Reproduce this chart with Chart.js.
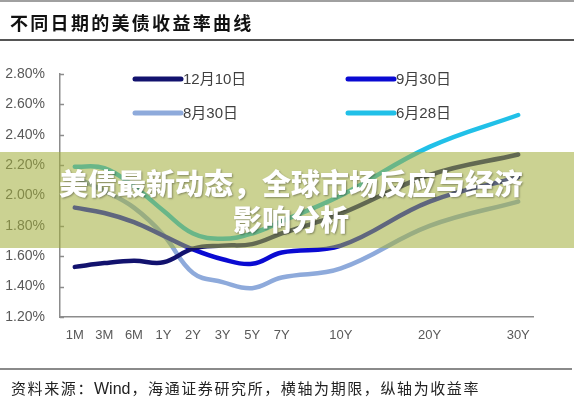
<!DOCTYPE html>
<html>
<head>
<meta charset="utf-8">
<script src="https://cdn.jsdelivr.net/npm/chart.js@4"></script>
<style>
  html, body { margin: 0; padding: 0; background: #fff; }
  #wrap { position: relative; width: 574px; height: 400px; overflow: hidden; background: #fff;
          font-family: "Noto Sans CJK SC", "Liberation Sans", sans-serif; }
  #chart { position: absolute; left: 0; top: 0; }
  #topline { position: absolute; left: 0; top: 0; width: 574px; height: 2px; background: #a0a0a0; }
  #title { position: absolute; left: 10px; top: 9px; font-size: 18px; font-weight: 700; letter-spacing: 2.3px;
           color: #111; line-height: 26px; white-space: nowrap; }
  #titleline { position: absolute; left: 0; top: 39px; width: 574px; height: 1.5px; background: #555; }
  #banner { position: absolute; left: 0; top: 152px; width: 574px; height: 96px; background: rgba(162,175,60,0.56); }
  #bannertext { position: absolute; left: 4px; top: 164px; width: 574px; text-align: center; color: #fff;
                font-size: 29px; font-weight: 900; line-height: 36px; white-space: nowrap;
                text-shadow: 1px 1px 2px rgba(0,0,0,0.35); }
  #footline { position: absolute; left: 0; top: 368px; width: 572px; height: 1.5px; background: #8a8a8a; }
  #foot { position: absolute; left: 11px; top: 377px; font-size: 15px; letter-spacing: 1.6px; color: #222;
          line-height: 22px; white-space: nowrap; }
  #foot .latin { font-family: "Liberation Sans", Arial, sans-serif; font-size: 16px; letter-spacing: 0; margin-right: 1px; }
</style>
</head>
<body>
<div id="wrap">
  <canvas id="chart" width="574" height="400"></canvas>
  <div id="topline"></div>
  <div id="title">不同日期的美债收益率曲线</div>
  <div id="titleline"></div>
  <div id="banner"></div>
  <div id="bannertext">美债最新动态，全球市场反应与经济<br>影响分析</div>
  <div id="footline"></div>
  <div id="foot">资料来源：<span class="latin">Wind</span>，海通证券研究所，横轴为期限，纵轴为收益率</div>
</div>
<script>
// Maturities and where they sit on the horizontal axis (spacing follows the source layout)
const tenors = ['1M', '3M', '6M', '1Y', '2Y', '3Y', '5Y', '7Y', '10Y', '20Y', '30Y'];
const tenorPos = [0, 1, 2, 3, 4, 5, 6, 7, 9, 12, 15];

// Yield tick values (%)
const yTicks = [1.2, 1.4, 1.6, 1.8, 2.0, 2.2, 2.4, 2.6, 2.8];

// Yield curves (%) on four dates
const seriesNames = ['12月10日', '9月30日', '8月30日', '6月28日'];
const dec10 = [1.53, 1.555, 1.57, 1.56, 1.65, 1.67, 1.68, 1.75, 1.88, 2.135, 2.27];
const sep30 = [1.92, 1.885, 1.825, 1.735, 1.645, 1.58, 1.55, 1.625, 1.67, 1.96, 2.12];
const aug30 = [2.12, 2.03, 1.92, 1.74, 1.49, 1.43, 1.39, 1.46, 1.52, 1.80, 1.96];
const jun28 = [2.19, 2.18, 2.06, 1.90, 1.75, 1.715, 1.75, 1.83, 2.00, 2.32, 2.53];
const seriesColors = ['#12126e', '#0a0ad2', '#8eaadb', '#21c0e8'];

const seriesValues = [dec10, sep30, aug30, jun28];
const toPoints = arr => tenorPos.map((x, i) => ({ x: x, y: arr[i] }));

const axisColor = '#8c8c8c';

// Short tick marks pointing into the plot on the value axis
const innerTicks = {
  id: 'innerTicks',
  afterDraw(chart) {
    const ctx = chart.ctx, y = chart.scales.y, left = chart.chartArea.left;
    ctx.save();
    ctx.strokeStyle = axisColor;
    ctx.lineWidth = 1.5;
    y.ticks.forEach(t => {
      const py = Math.round(y.getPixelForValue(t.value)) + 0.5;
      ctx.beginPath();
      ctx.moveTo(left, py);
      ctx.lineTo(left + 4, py);
      ctx.stroke();
    });
    ctx.restore();
  }
};

// Two-column legend placed inside the plot
const gridLegend = {
  id: 'gridLegend',
  afterDatasetsDraw(chart) {
    const ctx = chart.ctx;
    const slots = [[135, 79], [348, 79], [135, 113], [348, 113]];
    ctx.save();
    chart.data.datasets.forEach((ds, i) => {
      const [x, y] = slots[i];
      ctx.strokeStyle = ds.borderColor;
      ctx.lineWidth = 5;
      ctx.lineCap = 'round';
      ctx.beginPath();
      ctx.moveTo(x, y);
      ctx.lineTo(x + 46, y);
      ctx.stroke();
      ctx.fillStyle = '#404040';
      ctx.font = '15px "Liberation Sans", "Noto Sans CJK SC", sans-serif';
      ctx.textBaseline = 'middle';
      ctx.textAlign = 'left';
      ctx.fillText(ds.label, x + 48, y + 1);
    });
    ctx.restore();
  }
};

new Chart(document.getElementById('chart'), {
  type: 'line',
  data: {
    datasets: seriesNames.map((name, i) => ({
      label: name,
      data: toPoints(seriesValues[i]),
      borderColor: seriesColors[i],
      backgroundColor: seriesColors[i],
      borderWidth: 4.5,
      borderCapStyle: 'round',
      borderJoinStyle: 'round',
      pointRadius: 0,
      pointHoverRadius: 0,
      tension: 0.4,
      fill: false
    }))
  },
  options: {
    responsive: false,
    animation: false,
    devicePixelRatio: 1,
    layout: { padding: { top: 74, right: 41, left: 0, bottom: 0 } },
    plugins: { legend: { display: false }, tooltip: { enabled: false } },
    scales: {
      x: {
        type: 'linear',
        min: -0.5,
        max: 15.5,
        afterBuildTicks(scale) { scale.ticks = tenorPos.map(v => ({ value: v })); },
        afterFit(scale) { scale.height = 83; },
        ticks: {
          autoSkip: false,
          maxRotation: 0,
          padding: 11,
          color: '#595959',
          font: { family: '"Liberation Sans", Arial, sans-serif', size: 13 },
          callback: (v, i) => tenors[i]
        },
        grid: { drawOnChartArea: false, drawTicks: false },
        border: { display: true, color: axisColor, width: 1.5 }
      },
      y: {
        min: 1.2,
        max: 2.8,
        afterBuildTicks(scale) { scale.ticks = yTicks.map(v => ({ value: v })); },
        afterFit(scale) { scale.width = 60; },
        ticks: {
          padding: 15,
          color: '#595959',
          font: { family: '"Liberation Sans", Arial, sans-serif', size: 14 },
          callback: v => v.toFixed(2) + '%'
        },
        grid: { drawOnChartArea: false, drawTicks: false },
        border: { display: true, color: axisColor, width: 1.5 }
      }
    }
  },
  plugins: [innerTicks, gridLegend]
});
</script>
</body>
</html>
